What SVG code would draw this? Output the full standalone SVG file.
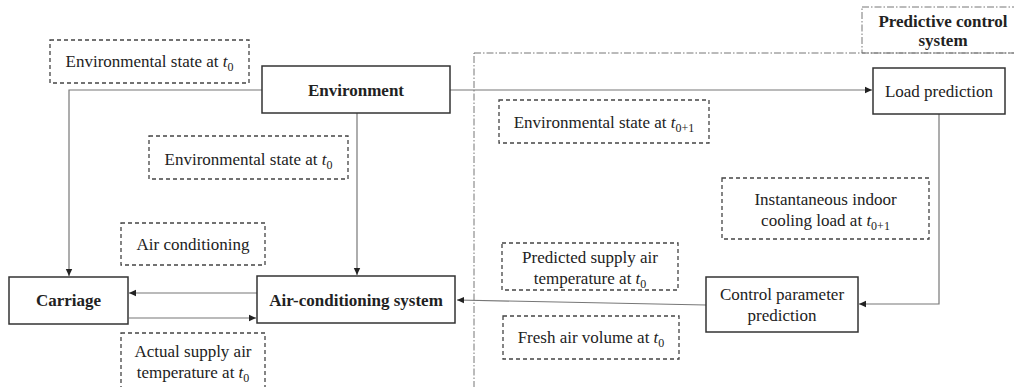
<svg xmlns="http://www.w3.org/2000/svg" width="1014" height="387" viewBox="0 0 1014 387" font-family="Liberation Serif, DejaVu Serif, serif">
<style>
text{font-family:"Liberation Serif","DejaVu Serif",serif;font-size:17px;fill:#222;text-anchor:middle}
.b{font-weight:bold}
.node{fill:#fff;stroke:#333;stroke-width:1.5}
.lbl{fill:none;stroke:#444;stroke-width:1.3;stroke-dasharray:4 3}
.grp{fill:none;stroke:#777;stroke-width:1;stroke-dasharray:7 2 1.5 2}
.con{fill:none;stroke:#777;stroke-width:1.2}
.it{font-style:italic}
.sub{font-size:12px}
</style>
<defs>
<marker id="ah" markerUnits="userSpaceOnUse" markerWidth="8" markerHeight="8" refX="7" refY="4" orient="auto">
<path d="M0,0.8 L7,4 L0,7.2 Z" fill="#222"/>
</marker>
</defs>
<g id="groups">
<rect class="grp" x="862" y="7" width="160" height="46"/>
<rect class="grp" x="474" y="53" width="560" height="345"/>
</g>
<g id="connectors">
<path class="con" d="M262,90 H69 V276" marker-end="url(#ah)"/>
<path class="con" d="M450,90 H872" marker-end="url(#ah)"/>
<path class="con" d="M357,113 V275" marker-end="url(#ah)"/>
<path class="con" d="M939,114 V304 H859" marker-end="url(#ah)"/>
<path class="con" d="M706,305 L457,300" marker-end="url(#ah)"/>
<path class="con" d="M257,293 H129" marker-end="url(#ah)"/>
<path class="con" d="M129,318 H256" marker-end="url(#ah)"/>
</g>
<g id="environment">
<rect class="node" x="262" y="66" width="188" height="47"/>
<text class="b" x="356" y="96">Environment</text>
</g>
<g id="load-prediction">
<rect class="node" x="873" y="68" width="132" height="46"/>
<text x="939" y="97">Load prediction</text>
</g>
<g id="carriage">
<rect class="node" x="9" y="277" width="119" height="47"/>
<text class="b" x="68.5" y="306">Carriage</text>
</g>
<g id="ac-system">
<rect class="node" x="257" y="276" width="198" height="47"/>
<text class="b" x="356" y="306">Air-conditioning system</text>
</g>
<g id="control-parameter">
<rect class="node" x="706" y="277" width="152" height="55"/>
<text x="782" y="300">Control parameter</text>
<text x="782" y="321">prediction</text>
</g>
<g id="predictive-title">
<text class="b" x="943" y="27">Predictive control</text>
<text class="b" x="943" y="46">system</text>
</g>
<g id="label-env-t0-a">
<rect class="lbl" x="50" y="40" width="199" height="43"/>
<text x="149.5" y="67">Environmental state at <tspan class="it">t</tspan><tspan class="sub" dy="4">0</tspan></text>
</g>
<g id="label-env-t0-b">
<rect class="lbl" x="149" y="136" width="199" height="43"/>
<text x="248.5" y="165">Environmental state at <tspan class="it">t</tspan><tspan class="sub" dy="4">0</tspan></text>
</g>
<g id="label-env-t01">
<rect class="lbl" x="499" y="100" width="210" height="43"/>
<text x="604" y="128">Environmental state at <tspan class="it">t</tspan><tspan class="sub" dy="4">0+1</tspan></text>
</g>
<g id="label-cooling-load">
<rect class="lbl" x="722" y="178" width="207" height="61"/>
<text x="825.5" y="205">Instantaneous indoor</text>
<text x="825.5" y="226">cooling load at <tspan class="it">t</tspan><tspan class="sub" dy="4">0+1</tspan></text>
</g>
<g id="label-predicted-supply">
<rect class="lbl" x="502" y="243" width="176" height="47"/>
<text x="590" y="263">Predicted supply air</text>
<text x="590" y="284">temperature at <tspan class="it">t</tspan><tspan class="sub" dy="4">0</tspan></text>
</g>
<g id="label-fresh-air">
<rect class="lbl" x="503" y="316" width="176" height="43"/>
<text x="591" y="343">Fresh air volume at <tspan class="it">t</tspan><tspan class="sub" dy="4">0</tspan></text>
</g>
<g id="label-air-conditioning">
<rect class="lbl" x="121" y="223" width="144" height="42"/>
<text x="193" y="250">Air conditioning</text>
</g>
<g id="label-actual-supply">
<rect class="lbl" x="121" y="333" width="144" height="70"/>
<text x="193" y="357">Actual supply air</text>
<text x="193" y="378">temperature at <tspan class="it">t</tspan><tspan class="sub" dy="4">0</tspan></text>
</g>
</svg>
